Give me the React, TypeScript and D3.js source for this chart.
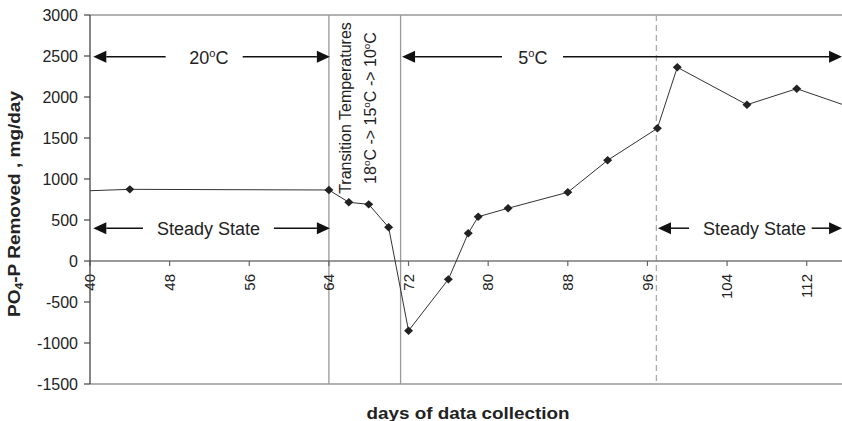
import React from "react";
import * as d3 from "d3";

// data
const days = [36, 44, 64, 66, 68, 70, 72, 76, 78, 79, 82, 88, 92, 97, 99, 106, 111, 117];
const removed = [840, 874, 866, 716, 691, 411, -850, -224, 338, 540, 643, 838, 1228, 1618, 2362, 1906, 2101, 1850];

const xTicks = [40, 48, 56, 64, 72, 80, 88, 96, 104, 112];
const yTicks = [-1500, -1000, -500, 0, 500, 1000, 1500, 2000, 2500, 3000];

// period boundaries (days)
const transitionStart = 64;
const transitionEnd = 71.2;
const steadyStart = 96.9;

// arrow annotations, in data units
const arrowRows = [
  { label: "20", deg: true, from: 40.33, to: 64.1, value: 2490, gap: [47.6, 55.34], center: 51.95 },
  { label: "5", deg: true, from: 71.35, to: 115.55, value: 2490, gap: [81.39, 87.52], center: 84.5 },
  { label: "Steady State", deg: false, from: 40.33, to: 64.1, value: 400, gap: [45.32, 58.48], center: 51.9 },
  { label: "Steady State", deg: false, from: 97.06, to: 115.55, value: 400, gap: [100.18, 112.5], center: 106.75 },
];

const W = 842;
const H = 421;
const left = 90;
const top = 15;
const bottom = 384;
const right = 850;

const font = "'Liberation Sans', Arial, sans-serif";

const x = d3.scaleLinear().domain([40, 112]).range([left, 806.7]);
const y = d3.scaleLinear().domain([-1500, 3000]).range([bottom, top]);

function Deg({ size }: { size: number }) {
  return (
    <>
      <tspan fontSize={size * 0.62} dy={-size * 0.4}>o</tspan>
      <tspan dy={size * 0.4}>C</tspan>
    </>
  );
}

function Arrow({ x1, x2, yy }: { x1: number; x2: number; yy: number }) {
  // line from x1 to arrow tip at x2
  const dir = x2 > x1 ? 1 : -1;
  const len = 13, hw = 6;
  return (
    <g>
      <line x1={x1} x2={x2 - dir * len} y1={yy} y2={yy} stroke="#111" strokeWidth={1.5} />
      <path d={`M${x2},${yy} L${x2 - dir * len},${yy - hw} L${x2 - dir * len},${yy + hw} Z`} fill="#111" />
    </g>
  );
}

export default function App() {
  const pts = days.map((d, i) => [x(d), y(removed[i])] as [number, number]);
  const line = d3.line()(pts) || "";

  return (
    <svg width={W} height={H} style={{ position: "absolute", left: 0, top: 0, background: "#fff" }} fontFamily={font}>
      <defs>
        <clipPath id="plot">
          <rect x={left} y={top - 1} width={right - left} height={bottom - top + 2} />
        </clipPath>
      </defs>

      {/* frame */}
      <line x1={left} x2={right} y1={top} y2={top} stroke="#999" strokeWidth={1.3} />
      <line x1={left} x2={right} y1={bottom} y2={bottom} stroke="#999" strokeWidth={1.3} />

      {/* period lines */}
      <line x1={x(transitionStart)} x2={x(transitionStart)} y1={top} y2={bottom} stroke="#999" strokeWidth={1.3} />
      <line x1={x(transitionEnd)} x2={x(transitionEnd)} y1={top} y2={bottom} stroke="#999" strokeWidth={1.3} />
      <line x1={x(steadyStart)} x2={x(steadyStart)} y1={top} y2={bottom} stroke="#aaa" strokeWidth={1.3} strokeDasharray="6,4" />

      {/* zero axis */}
      <line x1={left} x2={right} y1={y(0)} y2={y(0)} stroke="#777" strokeWidth={1.5} />
      {xTicks.map(t => (
        <g key={t}>
          <line x1={x(t)} x2={x(t)} y1={y(0)} y2={y(0) + 5} stroke="#666" strokeWidth={1.2} />
          <text
            transform={`translate(${x(t)},274) rotate(-90)`}
            textAnchor="end"
            dy="0.35em"
            fontSize={15}
            fill="#222"
          >
            {t}
          </text>
        </g>
      ))}

      {/* y axis */}
      <line x1={left} x2={left} y1={top} y2={bottom} stroke="#444" strokeWidth={1.3} />
      {yTicks.map(t => (
        <g key={t}>
          <line x1={left - 6} x2={left} y1={y(t)} y2={y(t)} stroke="#444" strokeWidth={1.2} />
          <text x={78} y={y(t)} dy="0.36em" textAnchor="end" fontSize={16} fill="#222">
            {t}
          </text>
        </g>
      ))}

      {/* data */}
      <g clipPath="url(#plot)">
        <path d={line} fill="none" stroke="#333" strokeWidth={1} />
        {pts.map(([px, py], i) => (
          <path key={i} d={`M${px},${py - 4.2} L${px + 4.5},${py} L${px},${py + 4.2} L${px - 4.5},${py} Z`} fill="#222" />
        ))}
      </g>

      {/* arrow annotations */}
      {arrowRows.map((r, i) => {
        const yy = y(r.value);
        return (
          <g key={i}>
            <Arrow x1={x(r.gap[0])} x2={x(r.from)} yy={yy} />
            <Arrow x1={x(r.gap[1])} x2={x(r.to)} yy={yy} />
            <text x={x(r.center)} y={yy + 7} textAnchor="middle" fontSize={18} fill="#222">
              {r.label}
              {r.deg && <Deg size={18} />}
            </text>
          </g>
        );
      })}

      {/* transition label */}
      <g transform={`translate(351,108) rotate(-90)`} fill="#222" fontSize={16}>
        <text textAnchor="middle">Transition Temperatures</text>
        <text textAnchor="middle" y={25}>
          18<Deg size={16} /> -&gt; 15<Deg size={16} /> -&gt; 10<Deg size={16} />
        </text>
      </g>

      {/* axis titles */}
      <text
        transform="translate(20,204) rotate(-90)"
        textAnchor="middle"
        fontSize={17}
        fontWeight="bold"
        fill="#222"
        textLength={226}
        lengthAdjust="spacingAndGlyphs"
      >
        PO<tspan fontSize={11} dy={3}>4</tspan>
        <tspan dy={-3}>-P Removed , mg/day</tspan>
      </text>
      <text
        x={468}
        y={419}
        textAnchor="middle"
        fontSize={16}
        fontWeight="bold"
        fill="#222"
        textLength={203}
        lengthAdjust="spacingAndGlyphs"
      >
        days of data collection
      </text>
    </svg>
  );
}
